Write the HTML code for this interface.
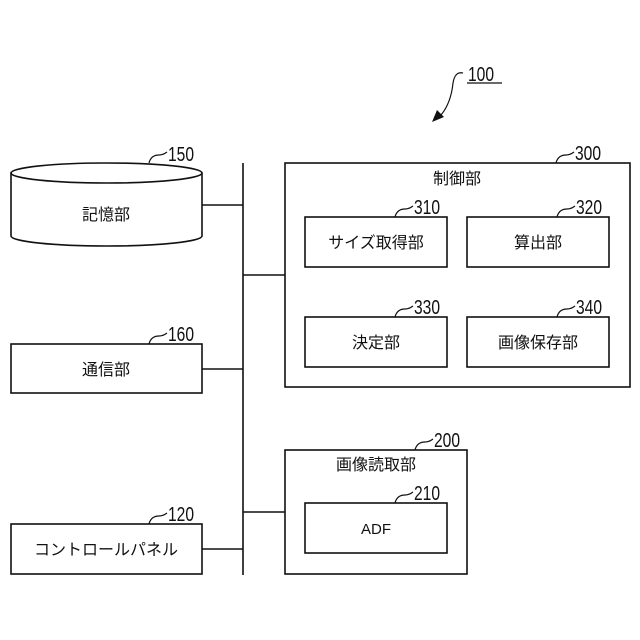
<!DOCTYPE html>
<html><head><meta charset="utf-8"><style>body{margin:0;background:#fff}</style></head><body>
<svg width="640" height="640" xmlns="http://www.w3.org/2000/svg" style="display:block">
<g fill="none" stroke="#111" stroke-width="1.6">
<!-- cylinder -->
<ellipse cx="106.5" cy="173" rx="95.5" ry="10"/>
<path d="M11 173 V236 A95.5 10 0 0 0 202 236 V173"/>
<rect x="11" y="344" width="191" height="49"/>
<rect x="11" y="524" width="191" height="50"/>
<rect x="285" y="163" width="345" height="224"/>
<rect x="305" y="217" width="142" height="50"/>
<rect x="467" y="217" width="142" height="50"/>
<rect x="305" y="317" width="142" height="50"/>
<rect x="467" y="317" width="142" height="50"/>
<rect x="285" y="450" width="182" height="124"/>
<rect x="305" y="503" width="142" height="50"/>
<path d="M243 163 V575 M202 205 H243 M202 369 H243 M202 549 H243 M243 275 H285 M243 512 H285"/>
<!-- leaders -->
<g stroke-width="1.2">
<path d="M149 163 q2 -8 10 -8 q4 0 8 -3"/>
<path d="M149 344 q2 -8 10 -8 q4 0 8 -3"/>
<path d="M149 524 q2 -8 10 -8 q4 0 8 -3"/>
<path d="M556 163 q2 -8 10 -8 q4 0 8 -3"/>
<path d="M395 217 q2 -8 10 -8 q4 0 8 -3"/>
<path d="M557 217 q2 -8 10 -8 q4 0 8 -3"/>
<path d="M395 317 q2 -8 10 -8 q4 0 8 -3"/>
<path d="M557 317 q2 -8 10 -8 q4 0 8 -3"/>
<path d="M415 450 q2 -8 10 -8 q4 0 8 -3"/>
<path d="M395 503 q2 -8 10 -8 q4 0 8 -3"/>
<path d="M463 73 q-8 -2 -10 10 q-2 20 -12 32"/>
<path d="M467 83 H502"/>
</g>
</g>
<path d="M432 122 L437 110 L444 117 Z" fill="#111"/>
<g font-family="Liberation Sans, sans-serif" font-size="20" fill="#111">
<text x="0" y="0" transform="translate(468,81) scale(0.78,1)">100</text>
<text transform="translate(168,161) scale(0.78,1)">150</text>
<text transform="translate(168,341) scale(0.78,1)">160</text>
<text transform="translate(168,521) scale(0.78,1)">120</text>
<text transform="translate(575,160) scale(0.78,1)">300</text>
<text transform="translate(414,214) scale(0.78,1)">310</text>
<text transform="translate(576,214) scale(0.78,1)">320</text>
<text transform="translate(414,314) scale(0.78,1)">330</text>
<text transform="translate(576,314) scale(0.78,1)">340</text>
<text transform="translate(434,447) scale(0.78,1)">200</text>
<text transform="translate(414,500) scale(0.78,1)">210</text>
</g>
<g font-family="Liberation Sans, 'Noto Sans CJK JP', sans-serif" font-size="16" fill="#111" text-anchor="middle">
<text x="106" y="220">記憶部</text>
<text x="106" y="375">通信部</text>
<text x="106" y="555">コントロールパネル</text>
<text x="457" y="184">制御部</text>
<text x="376" y="248">サイズ取得部</text>
<text x="538" y="248">算出部</text>
<text x="376" y="348">決定部</text>
<text x="538" y="348">画像保存部</text>
<text x="376" y="470">画像読取部</text>
<text x="376" y="534" font-size="15">ADF</text>
</g>
</svg>
</body></html>
